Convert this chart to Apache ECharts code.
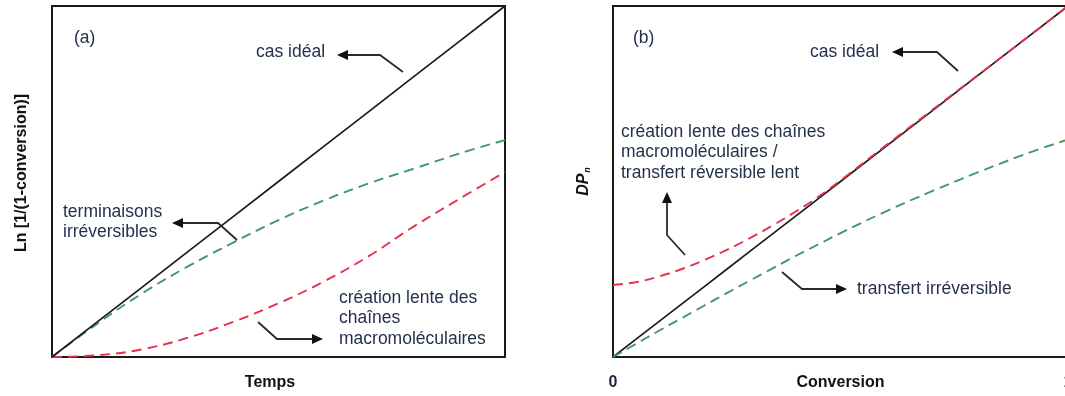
<!DOCTYPE html>
<html><head><meta charset="utf-8">
<script src="https://cdn.jsdelivr.net/npm/echarts@6/dist/echarts.min.js"></script>
<style>html,body{margin:0;padding:0;background:#fff}#c{width:1065px;height:396px}</style>
</head><body><div id="c"></div>
<script>
// Panel (a): Ln[1/(1-conversion)] vs Temps
const xA = [0, 0.1, 0.2, 0.3, 0.4, 0.5, 0.6, 0.7, 0.8, 0.9, 1.0];
const idealA = [0, 0.1, 0.2, 0.3, 0.4, 0.5, 0.6, 0.7, 0.8, 0.9, 1.0];
const terminaisonsA = [0, 0.095, 0.182, 0.258, 0.326, 0.39, 0.446, 0.495, 0.537, 0.58, 0.618];
const creationLenteA = [0, 0.005, 0.022, 0.055, 0.1, 0.153, 0.215, 0.288, 0.373, 0.451, 0.527];
// Panel (b): DPn vs Conversion
const xB = [0, 0.05, 0.1, 0.15, 0.2, 0.25, 0.3, 0.35, 0.4, 0.45, 0.5, 0.6, 0.7, 0.8, 0.9, 1.0];
const idealB = [0, 0.05, 0.1, 0.15, 0.2, 0.25, 0.3, 0.35, 0.4, 0.45, 0.5, 0.6, 0.7, 0.8, 0.9, 1.0];
const creationLenteB = [0.205, 0.213, 0.229, 0.25, 0.276, 0.305, 0.338, 0.374, 0.413, 0.455, 0.503, 0.603, 0.702, 0.801, 0.9, 1.0];
const transfertB = [0, 0.037, 0.074, 0.11, 0.146, 0.182, 0.217, 0.252, 0.287, 0.32, 0.353, 0.415, 0.472, 0.525, 0.575, 0.62];
const ticksB = ['0', '1'];

const FONT = "'Liberation Sans', Arial, Helvetica, sans-serif";
const TXT = '#25304d';

function pairs(xs, ys) { return xs.map((x, i) => [x, ys[i]]); }

const chart = echarts.init(document.getElementById('c'), null, {renderer: 'canvas'});

function dashed(color) {
  return {color: color, width: 1.9, type: [10, 6]};
}

function arrow(points, dir) {
  const t = points[points.length - 1];
  const L = 11, H = 5;
  let head;
  if (dir === 'left') head = [[t[0] - L, t[1]], [t[0], t[1] - H], [t[0], t[1] + H]];
  else if (dir === 'right') head = [[t[0] + L, t[1]], [t[0], t[1] - H], [t[0], t[1] + H]];
  else head = [[t[0], t[1] - L], [t[0] - H, t[1]], [t[0] + H, t[1]]];
  return [
    {type: 'polyline', shape: {points: points}, style: {stroke: '#2a2a2a', lineWidth: 1.8, fill: null}, z: 100},
    {type: 'polygon', shape: {points: head}, style: {fill: '#111'}, z: 100}
  ];
}

function label(text, x, yFirst, lh) {
  lh = lh || 20.5;
  return {type: 'text', x: x, y: yFirst - lh / 2, z: 100,
    style: {text: text, fontFamily: FONT, fontSize: 17.5, fill: TXT, verticalAlign: 'top', lineHeight: lh}};
}

const graphics = [].concat(
  [label('(a)', 74, 38), label('(b)', 633, 38)],
  [label('cas idéal', 256, 52)],
  arrow([[403, 72], [380, 55], [348, 55]], 'left'),
  [label('terminaisons\nirréversibles', 63, 212)],
  arrow([[237, 240], [218, 223], [183, 223]], 'left'),
  [label('création lente des\nchaînes\nmacromoléculaires', 339, 298)],
  arrow([[258, 322], [277, 339], [312, 339]], 'right'),
  [label('cas idéal', 810, 52)],
  arrow([[958, 71], [937, 52], [903, 52]], 'left'),
  [label('création lente des chaînes\nmacromoléculaires /\ntransfert réversible lent', 621, 132)],
  arrow([[685, 255], [667, 235], [667, 203]], 'up'),
  [label('transfert irréversible', 857, 289)],
  arrow([[782, 272], [802, 289], [836, 289]], 'right')
);

const nameStyle = {fontFamily: FONT, fontSize: 16, fontWeight: 'bold', color: '#111'};

chart.setOption({
  animation: false,
  backgroundColor: '#fff',
  grid: [
    {left: 52, top: 6, width: 453, height: 351, show: true, borderColor: '#1a1a1a', borderWidth: 2,
     backgroundColor: 'transparent', containLabel: false, outerBoundsMode: 'none'},
    {left: 613, top: 6, width: 455, height: 351, show: true, borderColor: '#1a1a1a', borderWidth: 2,
     backgroundColor: 'transparent', containLabel: false, outerBoundsMode: 'none'}
  ],
  xAxis: [
    {gridIndex: 0, type: 'value', min: 0, max: 1, axisLine: {show: false}, axisTick: {show: false},
     axisLabel: {show: false}, splitLine: {show: false},
     name: 'Temps', nameLocation: 'middle', nameGap: 18, nameMoveOverlap: false,
     nameTextStyle: Object.assign({}, nameStyle, {padding: [0, 17, 0, 0]})},
    {gridIndex: 1, type: 'value', min: 0, max: 1, interval: 1, axisLine: {show: false}, axisTick: {show: false},
     axisLabel: {show: true, margin: 18, fontFamily: FONT, fontSize: 16, fontWeight: 'bold', color: '#1c2540',
       hideOverlap: false, formatter: v => ticksB[Math.round(v)]},
     splitLine: {show: false},
     name: 'Conversion', nameLocation: 'middle', nameGap: 18, nameMoveOverlap: false, nameTextStyle: nameStyle}
  ],
  yAxis: [
    {gridIndex: 0, type: 'value', min: 0, max: 1, axisLine: {show: false}, axisTick: {show: false},
     axisLabel: {show: false}, splitLine: {show: false},
     name: 'Ln [1/(1-conversion)]', nameLocation: 'middle', nameRotate: 90, nameGap: 22, nameMoveOverlap: false,
     nameTextStyle: Object.assign({}, nameStyle, {padding: [0, 0, 0, 17]})},
    {gridIndex: 1, type: 'value', min: 0, max: 1, axisLine: {show: false}, axisTick: {show: false},
     axisLabel: {show: false}, splitLine: {show: false},
     name: '{a|DP}{b|n}', nameLocation: 'middle', nameRotate: 90, nameGap: 21, nameMoveOverlap: false,
     nameTextStyle: {rich: {
       a: {fontFamily: FONT, fontSize: 16, fontWeight: 'bold', fontStyle: 'italic', color: '#111'},
       b: {fontFamily: FONT, fontSize: 9, fontWeight: 'bold', fontStyle: 'italic', color: '#111', padding: [8, 0, 0, 1]}
     }}}
  ],
  series: [
    {type: 'line', xAxisIndex: 0, yAxisIndex: 0, data: pairs(xA, idealA), showSymbol: false,
     lineStyle: {color: '#1a1a1a', width: 1.7}, z: 3},
    {type: 'line', xAxisIndex: 0, yAxisIndex: 0, data: pairs(xA, terminaisonsA), showSymbol: false, smooth: 0.4,
     lineStyle: dashed('#3f9a60'), z: 2},
    {type: 'line', xAxisIndex: 0, yAxisIndex: 0, data: pairs(xA, creationLenteA), showSymbol: false, smooth: 0.4,
     lineStyle: dashed('#e4314b'), z: 2},
    {type: 'line', xAxisIndex: 1, yAxisIndex: 1, data: pairs(xB, idealB), showSymbol: false,
     lineStyle: {color: '#1a1a1a', width: 1.7}, z: 2},
    {type: 'line', xAxisIndex: 1, yAxisIndex: 1, data: pairs(xB, transfertB), showSymbol: false, smooth: 0.4,
     lineStyle: dashed('#3f9a60'), z: 2},
    {type: 'line', xAxisIndex: 1, yAxisIndex: 1, data: pairs(xB, creationLenteB), showSymbol: false, smooth: 0.4,
     lineStyle: dashed('#e4314b'), z: 3}
  ],
  graphic: graphics
});
</script></body></html>
